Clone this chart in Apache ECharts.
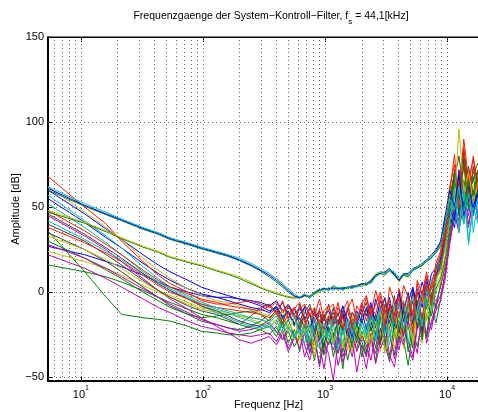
<!DOCTYPE html>
<html><head><meta charset="utf-8">
<script src="https://cdn.jsdelivr.net/npm/echarts@6/dist/echarts.min.js"></script>
<style>html,body{margin:0;padding:0;background:#fff}#c{width:478px;height:412px}</style>
</head><body><div id="c"></div><script>
// ---- data ----
const freqs = [5.38, 10.77, 16.15, 21.53, 32.3, 43.07, 53.83, 75.37, 96.9, 129.2, 161.5, 199.2, 247.6, 296.1,
  350, 400, 450, 500, 560, 620, 680, 750, 820, 900, 980, 1070, 1170, 1280, 1400, 1530, 1670, 1820, 2000,
  2180, 2380, 2600, 2840, 3100, 3380, 3700, 4040, 4400, 4800, 5250, 5700, 6250, 6800, 7450, 8100, 8850, 9650,
  10500, 11500, 12500, 13700, 15000, 16400, 18000];

const yTicks = [-50, 0, 50, 100, 150];
const xMajor = [10, 100, 1000, 10000];
const xMinor = [6, 7, 8, 9, 20, 30, 40, 50, 60, 70, 80, 90, 200, 300, 400, 500, 600, 700, 800, 900,
  2000, 3000, 4000, 5000, 6000, 7000, 8000, 9000, 20000];

// upper band (smooth at low frequencies)
const cyanUp = [62, 52, 47, 43, 38, 35, 32, 29, 26.5, 24, 22, 20, 17, 14,
  11, 8, 5, 2, -1, -3, -1, -3, 0, 2, 0, 3, 1, 3, 1, 3, 2, 4, 3,
  6, 5, 9, 12, 11, 13, 12, 8, 11, 10, 13, 15, 17, 18, 21, 23, 28, 40, 55, 48, 62, 40, 58, 45, 55];
const blueUp = [61, 51, 46, 42.5, 37.5, 34.5, 31.5, 28.5, 26, 23.5, 21.5, 19, 16, 13,
  10, 7, 4, 1, -2, -3.5, -2, -2.5, 0, 1.5, 2, 2, 2.5, 2, 2, 3, 3, 4, 5,
  5, 7, 10, 11, 12, 14, 10, 7, 11, 11, 14, 15, 17, 19, 22, 25, 30, 45, 60, 50, 70, 45, 55, 50, 60];
const greenUp = [60, 50.5, 45.5, 42, 37, 34, 31, 28, 25.5, 23, 21, 18.5, 15.5, 12.5,
  9, 6, 3, 0, -2.5, -3, -1.5, -3.5, -0.5, 1, 2.5, 1, 4, 2, 3, 2, 4, 3, 5,
  4, 6, 9, 11, 10, 13, 11, 7, 10, 9, 13, 14, 16, 18, 20, 24, 29, 42, 50, 65, 55, 75, 48, 60, 52];
const oliveMid = [48, 41, 36, 32, 27, 24, 21, 18, 16, 13, 11, 9, 6, 3,
  1, 0, -1.5, -2.5, -3, -3.5, -2.5, -2, -1.5, 0, 2, 1, 3, 1, 2, 2, 3, 4, 4,
  5, 7, 11, 12, 11, 13, 11, 6, 10, 10, 13, 14, 16, 18, 21, 24, 28, 44, 58, 52, 96, 60, 70, 55, 65];
const greenMid = [47, 40.5, 35.5, 31.5, 26.5, 23.5, 20.5, 17.5, 15.5, 12.5, 10.5, 8, 5, 2.5,
  0.5, -1, -2, -3, -3.5, -3, -2, -2.5, -1, 1, 1.5, 2, 2, 2.5, 1.5, 3, 2.5, 3.5, 4.5,
  4.5, 6, 10, 12, 11.5, 12.5, 10, 6.5, 10.5, 10, 12.5, 14.5, 15.5, 18.5, 20.5, 23, 27, 40, 55, 70, 62, 50, 66, 58, 72];

// lower group
const blue1 = [60, 46, 37, 31, 22, 16, 12, 7, 3, 0, -2, -4, -6, -8,
  -11, -9, -14, -12, -18, -15, -20, -13, -22, -17, -14, -24, -16, -20, -13, -26, -15, -19, -10,
  -22, -8, -17, -5, -14, -3, -20, -6, -12, 0, -18, 2, -9, 6, -4, 10, 16, 30, 45, 38, 60, 52, 70, 48, 62];
const green1 = [36, 12, -3, -13, -15, -16, -17, -20, -23, -24, -25, -25, -24, -22,
  -20, -26, -18, -30, -22, -35, -19, -28, -40, -24, -31, -20, -38, -26, -45, -22, -33, -18, -29,
  -37, -15, -27, -12, -34, -10, -24, -30, -8, -20, -33, -5, -16, -26, 0, -10, 5, 18, 35, 52, 42, 66, 50, 74, 55];
const red1 = [68, 50, 40, 30, 18, 10, 5, 0, -5, -7, -7, -6, -5, -7,
  -9, -6, -12, -8, -15, -10, -7, -14, -9, -19, -11, -8, -16, -6, -21, -10, -4, -17, -7,
  -2, -13, 1, -9, -20, 3, -6, -15, 4, -3, -24, 7, -1, 12, -8, 15, 22, 35, 58, 81, 50, 75, 62, 80, 58];
const cyan1 = [52, 38, 29, 22, 12, 6, 2, -3, -7, -10, -12, -15, -17, -19,
  -21, -17, -24, -20, -27, -22, -30, -19, -25, -33, -21, -28, -18, -34, -23, -19, -29, -14, -25,
  -20, -11, -28, -9, -17, -31, -7, -13, -22, -4, -12, 1, -19, 5, -6, 9, 14, 26, 43, 57, 38, 62, 30, 53, 45];
const magenta1 = [45, 33, 25, 18, 8, 1, -4, -10, -15, -20, -24, -28, -30, -28,
  -26, -31, -24, -35, -27, -22, -38, -29, -25, -44, -30, -36, -52, -28, -41, -33, -26, -47, -31,
  -38, -24, -42, -29, -19, -37, -44, -27, -16, -33, -40, -21, -12, -30, -17, -8, -2, 10, 30, 48, 35, 60, 40, 55, 46];
const olive1 = [62, 47, 38, 31, 20, 13, 8, 2, -2, -5, -6, -8, -10, -12,
  -14, -19, -10, -23, -15, -28, -17, -21, -31, -16, -25, -13, -29, -19, -33, -24, -14, -27, -20,
  -30, -16, -23, -11, -36, -18, -9, -26, -14, -5, -29, -10, 0, -17, 3, 8, 12, 28, 50, 62, 70, 55, 70, 60, 58];
const gray1 = [40, 30, 22, 16, 7, 1, -3, -8, -11, -13, -16, -19, -14, -9,
  -7, -12, -6, -15, -9, -19, -8, -13, -26, -11, -17, -7, -20, -12, -24, -9, -15, -30, -13,
  -6, -18, -25, -10, -3, -21, -12, -27, -6, -15, 0, -11, -23, 4, -7, 11, 18, 32, 52, 70, 45, 78, 58, 66, 72];
const blue2 = [27, 22, 18, 15, 10, 6, 3, 0, -2, -3, -3, -4, -5, -6,
  -8, -5, -11, -7, -13, -9, -16, -10, -12, -20, -14, -11, -18, -13, -9, -23, -12, -16, -8,
  -14, -6, -21, -10, -4, -15, -8, -1, -12, -19, 2, -7, 6, -3, 11, 14, 20, 36, 55, 44, 68, 50, 62, 45, 70];
const green2 = [30, 20, 13, 8, 0, -5, -9, -13, -15, -14, -13, -12, -11, -13,
  -17, -12, -21, -16, -26, -19, -14, -32, -22, -17, -37, -21, -28, -16, -35, -24, -30, -19, -38,
  -26, -20, -33, -15, -27, -39, -18, -24, -12, -35, -20, -9, -28, -4, -14, 2, 8, 20, 38, 60, 47, 82, 55, 68, 50];
const red2 = [48, 36, 28, 22, 13, 7, 3, -1, -4, -6, -8, -9, -10, -11,
  -8, -13, -5, -16, -10, -6, -18, -9, -14, -4, -16, -10, -7, -19, -11, -5, -22, -8, -13,
  -3, -15, -7, 0, -12, -5, -18, 2, -9, -2, -14, 5, -6, 10, 2, 17, 24, 40, 62, 75, 55, 90, 66, 78, 62];
const cyan2 = [57, 42, 33, 26, 15, 8, 3, -2, -6, -9, -11, -13, -15, -16,
  -18, -14, -22, -17, -13, -25, -19, -27, -15, -23, -18, -26, -14, -21, -30, -17, -24, -12, -20,
  -27, -13, -19, -8, -25, -11, -16, -6, -22, -10, -3, -17, 0, -9, 7, 12, 22, 45, 48, 62, 35, 58, 28, 50, 40];
const magenta2 = [22, 14, 8, 3, -4, -9, -12, -17, -20, -22, -24, -25, -26, -25,
  -24, -29, -22, -33, -26, -20, -31, -40, -27, -23, -36, -30, -25, -43, -32, -27, -38, -23, -33,
  -45, -28, -36, -22, -31, -41, -25, -34, -20, -29, -38, -18, -26, -13, -22, -6, 3, 15, 32, 50, 40, 58, 45, 60, 42];
const olive2 = [33, 25, 19, 14, 6, 1, -2, -6, -9, -11, -12, -14, -16, -18,
  -20, -16, -25, -19, -23, -30, -21, -17, -34, -24, -20, -29, -22, -18, -31, -26, -35, -21, -28,
  -23, -32, -17, -27, -12, -24, -33, -15, -21, -8, -30, -13, -19, -2, -11, 4, 10, 22, 42, 55, 66, 48, 72, 52, 64];
const gray2 = [46, 34, 26, 20, 11, 5, 1, -4, -8, -11, -14, -17, -19, -20,
  -16, -10, -18, -8, -14, -22, -12, -7, -17, -28, -13, -19, -9, -25, -14, -11, -20, -27, -15,
  -10, -23, -13, -29, -7, -18, -2, -24, -11, -16, -5, -21, 1, -10, 6, 13, 17, 34, 48, 66, 80, 60, 74, 56, 68];
const blue3 = [55, 41, 32, 26, 17, 11, 7, 2, -1, -3, -5, -7, -9, -10,
  -12, -8, -15, -11, -19, -13, -9, -21, -15, -11, -24, -16, -12, -20, -8, -17, -27, -11, -18,
  -9, -19, -4, -15, -23, -7, -13, 1, -17, -6, 3, -11, -1, 8, -5, 13, 20, 34, 50, 42, 72, 56, 63, 47, 58];
const green3 = [16, 12, 9, 6, 1, -3, -6, -10, -13, -15, -17, -19, -21, -22,
  -25, -20, -28, -23, -32, -26, -21, -35, -27, -42, -25, -31, -24, -36, -20, -40, -28, -33, -23,
  -35, -26, -41, -21, -30, -25, -37, -19, -28, -43, -23, -32, -16, -27, -9, -18, -4, 12, 30, 44, 58, 40, 64, 52, 48];
const red3 = [38, 29, 23, 18, 10, 4, 0, -4, -7, -9, -10, -11, -12, -13,
  -15, -11, -19, -13, -9, -16, -21, -12, -18, -10, -22, -14, -19, -9, -15, -24, -12, -18, -6,
  -17, -9, -13, -2, -19, -8, -14, -3, -25, -7, -12, 0, -16, 4, -4, 9, 15, 30, 55, 70, 62, 85, 52, 74, 66];
const cyan3 = [42, 31, 24, 19, 11, 5, 1, -4, -8, -12, -15, -18, -20, -21,
  -19, -24, -17, -21, -26, -18, -24, -29, -20, -16, -27, -23, -31, -19, -25, -15, -22, -28, -17,
  -24, -12, -29, -18, -10, -26, -15, -21, -5, -30, -14, -8, -20, 2, -10, 6, 15, 38, 52, 40, 58, 44, 66, 35, 55];
const magenta3 = [28, 20, 14, 9, 2, -3, -7, -12, -16, -19, -21, -23, -22, -20,
  -18, -23, -28, -21, -25, -33, -24, -36, -22, -30, -45, -27, -34, -24, -38, -29, -22, -35, -26,
  -31, -40, -23, -33, -27, -21, -39, -25, -31, -17, -26, -36, -14, -24, -19, -11, -5, 8, 28, 46, 36, 52, 38, 57, 44];
const olive3 = [24, 18, 14, 10, 4, 0, -3, -7, -10, -12, -13, -14, -15, -16,
  -18, -23, -15, -20, -28, -17, -24, -21, -38, -19, -26, -22, -31, -25, -17, -34, -23, -20, -26,
  -19, -28, -14, -35, -22, -16, -27, -11, -33, -19, -24, -9, -30, -12, -6, 0, 6, 18, 40, 64, 52, 78, 56, 62, 70];
const gray3 = [35, 25, 18, 12, 3, -3, -8, -13, -17, -19, -21, -22, -20, -17,
  -13, -9, -16, -11, -20, -7, -15, -24, -10, -19, -33, -14, -25, -17, -12, -28, -18, -24, -16,
  -25, -13, -20, -31, -15, -9, -22, -17, -26, -12, -19, -7, -24, -3, 2, 8, 14, 30, 46, 72, 58, 84, 62, 70, 76];

// ---- styling ----
const C = {blue: '#0000ff', green: '#008000', red: '#ff1a00', cyan: '#00bfbf', magenta: '#bf00bf', olive: '#bfbf00', gray: '#404040'};
const FONT = '"Liberation Sans", Arial, Helvetica, sans-serif';

const drawOrder = [
  [green3, C.green], [magenta2, C.magenta], [blue2, C.blue], [green1, C.green], [magenta1, C.magenta],
  [olive3, C.olive], [gray3, C.gray], [blue1, C.blue], [green2, C.green], [magenta3, C.magenta],
  [olive2, C.olive], [gray1, C.gray], [cyan3, C.cyan], [blue3, C.blue], [olive1, C.olive],
  [gray2, C.gray], [cyan1, C.cyan], [red3, C.red], [cyan2, C.cyan], [red1, C.red], [red2, C.red],
  [greenMid, C.green], [oliveMid, C.olive], [greenUp, C.green], [blueUp, C.blue], [cyanUp, C.cyan]
];

const gridDot = {color: '#666', width: 1, type: [1, 3]};
const markData = []
  .concat(xMajor.map(v => ({xAxis: v})))
  .concat(xMinor.map(v => ({xAxis: v})))
  .concat(yTicks.filter(v => v < 150).map(v => ({yAxis: v})));

const series = drawOrder.map((d, i) => {
  const s = {
    type: 'line', silent: true, symbol: 'none', showSymbol: false,
    data: freqs.map((f, k) => [f, d[0][k]]),
    lineStyle: {color: d[1], width: 1}, itemStyle: {color: d[1]}, z: 2
  };
  if (i === 0) {
    s.markLine = {silent: true, symbol: ['none', 'none'], label: {show: false}, lineStyle: gridDot,
      animation: false, data: markData};
  }
  return s;
});

function xLabel(v) {
  const e = Math.round(Math.log10(v));
  if (Math.abs(v - Math.pow(10, e)) < 1e-6 * v) return '{b|10}{s|' + e + '}';
  return '';
}

const chart = echarts.init(document.getElementById('c'), null, {renderer: 'canvas'});
chart.setOption({
  animation: false,
  backgroundColor: '#fff',
  grid: {left: 48, right: -11, top: 37, bottom: 31, show: true, borderColor: '#000', borderWidth: 1,
    containLabel: false, outerBoundsMode: 'none'},
  xAxis: [{
    type: 'log', logBase: 10, min: 5.38, max: 22050,
    axisLine: {show: true, onZero: false, lineStyle: {color: '#000', width: 2}},
    axisTick: {show: true, inside: true, length: 5, lineStyle: {color: '#000'}},
    splitLine: {show: false}, minorTick: {show: false},
    axisLabel: {formatter: xLabel, margin: 4, color: '#000',
      rich: {b: {fontSize: 11, fontFamily: FONT, color: '#000', lineHeight: 15, verticalAlign: 'bottom'},
             s: {fontSize: 7, fontFamily: FONT, color: '#000', lineHeight: 15, verticalAlign: 'top'}}},
    name: 'Frequenz [Hz]', nameLocation: 'middle', nameGap: 18, nameMoveOverlap: false,
    nameTextStyle: {fontSize: 11, fontFamily: FONT, color: '#000'}
  }, {
    type: 'log', logBase: 10, min: 5.38, max: 22050, position: 'top',
    axisLine: {show: true, onZero: false, lineStyle: {color: '#000', width: 1}},
    axisTick: {show: true, inside: true, length: 5, lineStyle: {color: '#000'}},
    axisLabel: {show: false}, splitLine: {show: false}
  }],
  yAxis: {
    type: 'value', min: -52.2, max: 150,
    axisLine: {show: true, onZero: false, lineStyle: {color: '#000', width: 2}},
    axisTick: {show: true, inside: true, length: 5, customValues: yTicks, lineStyle: {color: '#000'}},
    axisLabel: {customValues: yTicks, margin: 4, fontSize: 11, fontFamily: FONT, color: '#000',
      formatter: v => String(v).replace('-', '\u2212')},
    splitLine: {show: false},
    name: 'Amplitude [dB]', nameLocation: 'middle', nameGap: 27, nameRotate: 90, nameMoveOverlap: false,
    nameTextStyle: {fontSize: 11, fontFamily: FONT, color: '#000'}
  },
  graphic: [{
    type: 'text', x: 271, y: 18, silent: true,
    style: {
      text: '{a|Frequenzgaenge der System\u2212Kontroll\u2212Filter, f}{sub|s}{a| = 44,1[kHz]}',
      align: 'center', verticalAlign: 'middle',
      rich: {a: {fontSize: 10.5, fontFamily: FONT, fill: '#000', lineHeight: 15, verticalAlign: 'top'},
             sub: {fontSize: 8, fontFamily: FONT, fill: '#000', lineHeight: 15, verticalAlign: 'bottom'}}
    }
  }],
  series: series
});
</script></body></html>
